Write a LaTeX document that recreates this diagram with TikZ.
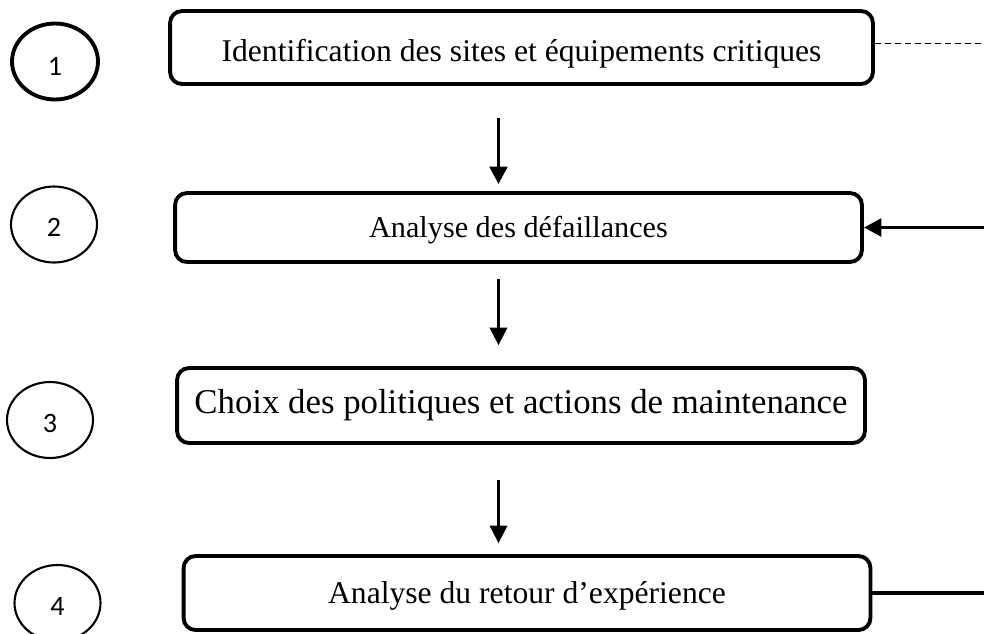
\documentclass[tikz,border=0pt]{standalone}
\usepackage{fontspec}
\setmainfont{Liberation Serif}
\newfontfamily\numfont{Carlito}
\usetikzlibrary{arrows.meta,shapes,shadows,positioning}
\newcommand{\sinktext}[2]{\raisebox{-#1}[\height][\depth]{#2}}
\tikzstyle{stage}=[draw,rectangle,rounded corners=.24cm,line width=2.2pt,
  fill=white,inner sep=0pt,font=\fontsize{18}{22}\selectfont,
  drop shadow={opacity=.18,shadow xshift=.6pt,shadow yshift=-.8pt}]
\tikzstyle{num}=[draw,ellipse,line width=1.2pt,inner sep=0pt,
  minimum width=1.72cm,minimum height=1.52cm,font=\numfont\fontsize{16}{18}\selectfont]
\tikzstyle{flow}=[->,line width=1.2pt]

\begin{document}
\begin{tikzpicture}[x=.02cm, y=-.02cm, >={Triangle[width=10pt,length=10pt]}]
  \useasboundingbox (0,0) rectangle (984,633);

  \node[stage, minimum width=14.06cm, minimum height=1.46cm] (s1) at (521.5,47.5)
    {\sinktext{.12cm}{Identification des sites et équipements critiques}};
  \node[stage, minimum width=13.74cm, minimum height=1.38cm,
    font=\fontsize{17.2}{21}\selectfont] (s2) at (518.5,227.5)
    {\sinktext{.06cm}{Analyse des défaillances}};
  \node[stage, minimum width=13.76cm, minimum height=1.5cm,
    font=\fontsize{19.8}{24}\selectfont] (s3) at (521,405.5)
    {Choix des politiques et actions de maintenance};
  \node[stage, minimum width=13.74cm, minimum height=1.48cm] (s4) at (527,593)
    {\sinktext{.06cm}{Analyse du retour d’expérience}};

  \node[num, line width=2.2pt] (n1) at (55,61.5) {\sinktext{.1cm}{1}};
  \node[num] (n2) at (54,224.5) {\sinktext{.06cm}{2}};
  \node[num] (n3) at (50,420) {\sinktext{.06cm}{3}};
  \node[num] (n4) at (57.5,603) {\sinktext{.06cm}{4}};

  \coordinate (axis) at (498.5,0);
  \coordinate (edge) at (986,0);
  \coordinate (back) at (990,0);

  \draw[flow, line width=2.2pt, shorten <=.64cm, shorten >=.14cm]
    (s1.south -| axis) -- (s2.north -| axis);
  \draw[flow, shorten <=.3cm, shorten >=.42cm] (s2.south -| axis) -- (s3.north -| axis);
  \draw[flow, shorten <=.7cm, shorten >=.22cm] (s3.south -| axis) -- (s4.north -| axis);

  \draw[line width=.6pt, dash pattern=on .12cm off .08cm]
    ([yshift=.08cm]s1.east) -- ([yshift=.08cm]s1.east -| edge);
  \draw[->, line width=2.2pt] (s4.east) -- (s4.east -| back) |- (s2.east);
\end{tikzpicture}
\end{document}
